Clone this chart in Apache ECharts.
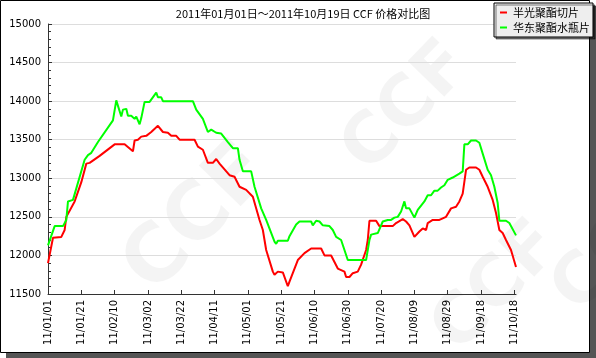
<!DOCTYPE html>
<html><head><meta charset="utf-8">
<script src="https://cdn.jsdelivr.net/npm/echarts@6/dist/echarts.min.js"></script>
<style>html,body{margin:0;padding:0;background:#fff}#c{width:596px;height:358px}</style>
</head><body><div id="c"></div>
<script>
// Category dates: daily from 01/01 to 09/30, then 10/11 to 10/19 (holiday gap)
const categories = [];
(function(){
  const monthDays = [31,28,31,30,31,30,31,31,30];
  for (let m = 0; m < monthDays.length; m++) {
    for (let d = 1; d <= monthDays[m]; d++) categories.push('11/' + String(m+1).padStart(2,'0') + '/' + String(d).padStart(2,'0'));
  }
  for (let d = 11; d <= 19; d++) categories.push('11/10/' + d);
})();

const seriesNames = ['半光聚酯切片', '华东聚酯水瓶片'];

const redDates = ['01/01','01/04','01/09','01/11','01/12','01/17','01/21','01/24','01/26','02/01','02/10','02/16','02/21','02/22','02/24','02/26','03/01','03/04','03/08','03/11','03/14','03/16','03/19','03/21','03/30','04/01','04/04','04/07','04/10','04/12','04/14','04/20','04/23','04/26','04/30','05/04','05/08','05/10','05/11','05/12','05/16','05/17','05/19','05/22','05/25','05/26','05/31','06/01','06/04','06/08','06/14','06/16','06/20','06/24','06/28','06/29','07/01','07/03','07/06','07/08','07/11','07/12','07/13','07/17','07/19','07/27','07/29','08/02','08/04','08/06','08/09','08/12','08/14','08/16','08/17','08/20','08/24','08/28','08/31','09/03','09/05','09/07','09/09','09/11','09/15','09/17','09/19','09/22','09/25','09/27','09/29','10/11','10/13','10/16','10/19'];
const redValues = [11900,12230,12240,12330,12500,12700,12950,13190,13200,13290,13440,13440,13350,13490,13500,13540,13550,13600,13680,13600,13590,13550,13550,13500,13500,13410,13370,13200,13200,13250,13190,13040,13020,12890,12850,12760,12460,12330,12200,12070,11790,11750,11790,11780,11600,11660,11940,11930,12030,12090,12090,12000,12000,11830,11790,11720,11720,11770,11790,11880,12070,12200,12450,12450,12380,12380,12420,12470,12440,12390,12240,12310,12350,12330,12420,12460,12460,12500,12610,12630,12700,12800,13110,13140,13140,13110,13020,12890,12720,12550,12330,12290,12200,12070,11850];

const greenDates = ['01/01','01/05','01/10','01/12','01/13','01/16','01/23','01/25','01/27','01/31','02/09','02/11','02/12','02/14','02/15','02/17','02/18','02/20','02/22','02/23','02/25','02/26','02/28','03/03','03/07','03/08','03/10','03/11','03/29','03/31','04/04','04/07','04/09','04/12','04/15','04/19','04/22','04/25','04/26','04/28','05/03','05/05','05/09','05/12','05/17','05/18','05/19','05/25','05/26','05/30','06/01','06/08','06/09','06/11','06/13','06/15','06/19','06/21','06/23','06/26','06/30','07/11','07/13','07/14','07/18','07/21','07/24','07/26','07/28','07/30','08/01','08/03','08/04','08/06','08/09','08/11','08/15','08/17','08/19','08/21','08/23','08/25','08/27','08/29','09/01','09/05','09/07','09/08','09/10','09/12','09/15','09/17','09/19','09/22','09/24','09/26','09/28','09/29','10/13','10/15','10/19'];
const greenValues = [12130,12380,12380,12460,12700,12720,13240,13300,13330,13470,13750,14010,13990,13800,13890,13900,13810,13810,13770,13800,13700,13780,13990,13990,14110,14050,14050,14000,14000,13890,13770,13600,13630,13590,13580,13470,13390,13390,13240,13090,13090,12890,12610,12460,12180,12150,12190,12190,12250,12400,12440,12440,12390,12450,12440,12390,12380,12330,12240,12200,11940,11940,12200,12270,12290,12440,12460,12460,12490,12500,12570,12700,12610,12610,12490,12590,12700,12780,12780,12840,12840,12880,12910,12980,13010,13060,13090,13440,13440,13490,13490,13460,13320,13110,13040,12890,12680,12450,12450,12420,12260];

const yMin = 11500, yMax = 15000, yStep = 500, yMinorStep = 100;
const titleText = '2011年01月01日～2011年10月19日 CCF 价格对比图';

function pairs(dates, vals){ return dates.map((d,i)=>['11/'+d, vals[i]]); }

const chart = echarts.init(document.getElementById('c'), null, {renderer:'canvas'});
const wm = (x,y,r,s)=>({type:'text', left:x, top:y, rotation:r, z:-10, silent:true,
  style:{text:'CCF', fill:'rgba(0,0,0,0.045)', font:'bold '+s+'px "DejaVu Sans"'}});
chart.setOption({
  animation:false,
  backgroundColor:'transparent',
  graphic:[
    {type:'rect', shape:{x:6,y:6,width:590,height:352}, style:{fill:'#555'}, z:-20, silent:true},
    {type:'rect', shape:{x:0.5,y:0.5,width:589,height:352}, style:{fill:'#fff', stroke:'#000', lineWidth:1}, z:-19, silent:true},
    wm(110,130,0.8,80), wm(330,30,0.8,70), wm(420,210,0.8,70), wm(540,170,0.8,70)
  ],
  title:{text:titleText, left:298, top:3, textAlign:'center',
    textStyle:{fontSize:11, fontWeight:'normal', color:'#000', fontFamily:'"Noto Sans CJK SC"'}},
  legend:{
    data:seriesNames, orient:'vertical', left:494, top:3,
    padding:[4,3,4,6], itemGap:4, itemWidth:7, itemHeight:2, icon:'rect',
    backgroundColor:'#eeeeee', borderColor:'#000', borderWidth:1,
    shadowColor:'rgba(0,0,0,0.5)', shadowOffsetX:2, shadowOffsetY:2, shadowBlur:0,
    textStyle:{fontSize:11, color:'#000', fontFamily:'"Noto Sans CJK SC"', padding:[0,0,0,1]}
  },
  grid:{left:48, right:80, top:24, bottom:64},
  xAxis:{
    type:'category', data:categories, boundaryGap:false,
    axisLine:{lineStyle:{color:'#333', width:1}},
    axisTick:{interval:19, inside:true, length:4, lineStyle:{color:'#333'}},
    axisLabel:{interval:19, rotate:90, fontSize:10, color:'#000', margin:6, fontFamily:'"DejaVu Sans"'},
    splitLine:{show:false}
  },
  yAxis:[{
    type:'value', min:yMin, max:yMax, interval:yStep,
    axisLine:{show:true, lineStyle:{color:'#333', width:1}},
    axisTick:{show:true, inside:true, length:4, lineStyle:{color:'#333'}},
    axisLabel:{fontSize:10, color:'#000', margin:7, fontFamily:'"DejaVu Sans"', formatter:v=>String(v)},
    splitLine:{show:true, lineStyle:{color:'#dddddd', width:1}}
  },{
    type:'value', min:yMin, max:yMax, interval:yMinorStep, position:'left',
    axisLine:{show:false},
    axisTick:{show:true, inside:true, length:3, lineStyle:{color:'#333'}},
    axisLabel:{show:false}, splitLine:{show:false}
  }],
  series:[
    {name:seriesNames[0], type:'line', data:pairs(redDates, redValues), showSymbol:false, symbol:'none',
      lineStyle:{color:'#ff0000', width:2}, itemStyle:{color:'#ff0000'}},
    {name:seriesNames[1], type:'line', data:pairs(greenDates, greenValues), showSymbol:false, symbol:'none',
      lineStyle:{color:'#00ff00', width:2}, itemStyle:{color:'#00ff00'}}
  ]
});
</script></body></html>
